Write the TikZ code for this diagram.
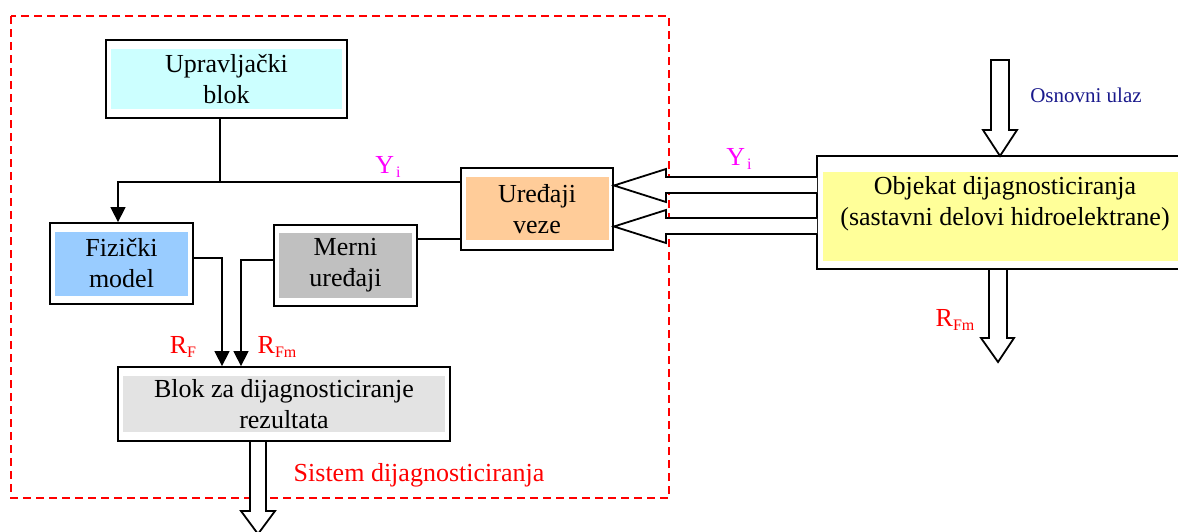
\documentclass[tikz,border=0pt]{standalone}
\usepackage{fontspec}
\setmainfont{Liberation Serif}
\usetikzlibrary{arrows.meta,calc}
\definecolor{upfill}{HTML}{CCFFFF}
\definecolor{fizfill}{HTML}{99CCFF}
\definecolor{mernifill}{HTML}{C0C0C0}
\definecolor{vezefill}{HTML}{FFCC99}
\definecolor{blokfill}{HTML}{E3E3E3}
\definecolor{objfill}{HTML}{FFFF99}
\definecolor{navyblue}{HTML}{1A1A8C}
\definecolor{pinklab}{HTML}{FF00FF}
\definecolor{redlab}{HTML}{FF0000}
\newcommand\lowsub[1]{\raisebox{-0.12em}{\fontsize{16}{16}\selectfont #1}}
\begin{document}
\begin{tikzpicture}[x=1pt,y=-1pt,
  box/.style={draw, line width=1.8pt, inner sep=0pt, align=center, font=\fontsize{26}{31}\selectfont},
  conn/.style={line width=1.4pt},
  arr/.style={conn, -{Triangle[width=15pt,length=15pt]}},
  hollow/.style={draw, line width=1.8pt, fill=white, line join=miter},
  lab/.style={inner sep=0pt, font=\fontsize{26}{31}\selectfont}]
\useasboundingbox (0,0) rectangle (1178,531);

% system boundary
\draw[redlab, line width=1.5pt, dash pattern=on 8pt off 5pt] (11,16) rectangle (669,498);

% inner fills
\fill[upfill] (111,49) rectangle (342,109);
\fill[fizfill] (55,232) rectangle (188,296);
\fill[mernifill] (279,233) rectangle (412,298);
\fill[vezefill] (466,177) rectangle (609,240);
\fill[blokfill] (123,376) rectangle (445,432);
\fill[objfill] (823,172) rectangle (1190,261);

% boxes
\node[box, minimum width=241pt, minimum height=78pt] (up) at (226.5,79) {Upravljački\\blok};
\node[box, minimum width=143pt, minimum height=81pt] (fiz) at (121.5,263.5) {Fizički\\model};
\node[box, minimum width=143pt, minimum height=81pt] (merni) at (345.5,265.5) {Merni\\uređaji};
\node[box, minimum width=152pt, minimum height=82pt] (veze) at (537,209) {Uređaji\\veze};
\node[box, minimum width=332pt, minimum height=74pt] (blok) at (284,404) {Blok za dijagnosticiranje\\rezultata};
\node[box, minimum width=380pt, minimum height=113pt] (obj) at (1007,212.5) {};
\node[lab, align=center] (objtxt) at (1005,204) {Objekat dijagnosticiranja\\(sastavni delovi hidroelektrane)};

% connectors
\coordinate (j) at (220,182);
\draw[conn] (up.south -| j) -- (j);
\draw[arr] (veze.west |- j) -| ($(fiz.north)+(-3.5,0)$);
\draw[conn] ($(merni.east)+(0,-26.5)$) -- ($(veze.west)+(0,30)$);
\draw[arr] ($(fiz.east)+(0,-5.5)$) -| ($(blok.north)+(-62,0)$);
\draw[arr] ($(merni.west)+(0,-5.5)$) -| ($(blok.north)+(-43,0)$);

% hollow arrows
\draw[hollow] (817,177) -- (666,177) -- (666,169) -- (614,185.5) -- (666,202) -- (666,193) -- (817,193);
\draw[hollow] (817,218) -- (666,218) -- (666,210) -- (614,226.5) -- (666,243) -- (666,234) -- (817,234);
\draw[hollow] (991,60) -- (1009,60) -- (1009,130) -- (1017,130) -- (1000,156) -- (983,130) -- (991,130) -- cycle;
\draw[hollow] (989,270) -- (989,338) -- (981,338) -- (998,362) -- (1014,338) -- (1007,338) -- (1007,270);
\draw[hollow] (250,442) -- (250,511) -- (241,511) -- (258,534) -- (275,511) -- (266,511) -- (266,442);

% labels
\node[lab, pinklab] (yi1) at (388,167) {Y\kern2pt\lowsub{i}};
\node[lab, pinklab] (yi2) at (739,159) {Y\kern2pt\lowsub{i}};
\node[lab, redlab] (rf) at (183,347) {R\lowsub{F}};
\node[lab, redlab] (rfm) at (277,347) {R\lowsub{Fm}};
\node[lab, redlab] (rfm2) at (955,320) {R\lowsub{Fm}};
\node[inner sep=0pt, navyblue, font=\fontsize{21}{25}\selectfont] (osn) at (1086,95) {Osnovni ulaz};
\node[lab, redlab] (sist) at (419,475) {Sistem dijagnosticiranja};
\end{tikzpicture}
\end{document}
